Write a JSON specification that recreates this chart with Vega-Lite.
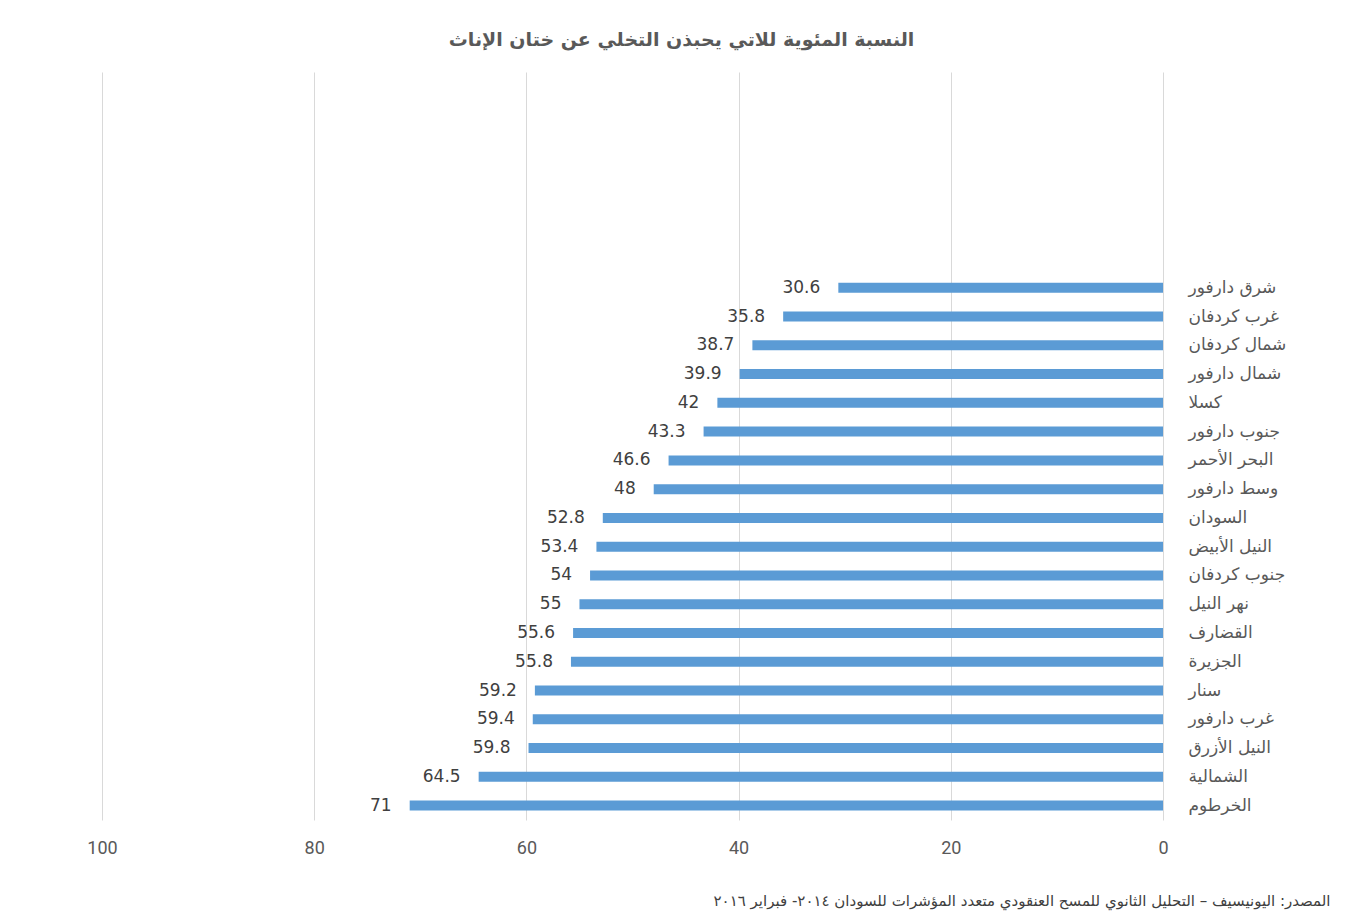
{
  "$schema": "https://vega.github.io/schema/vega-lite/v6.json",
  "width": 1061,
  "height": 748,
  "autosize": {"type": "none"},
  "padding": {"left": 102, "top": 72, "right": 202, "bottom": 102},
  "background": "white",
  "title": {
    "text": "النسبة المئوية للاتي يحبذن التخلي عن ختان الإناث",
    "font": "DejaVu Sans",
    "fontSize": 19,
    "fontWeight": "bold",
    "color": "#595959",
    "anchor": "middle",
    "dx": 49,
    "offset": 22
  },
  "data": {
    "values": [
      {"region": "شرق دارفور", "value": 30.6},
      {"region": "غرب كردفان", "value": 35.8},
      {"region": "شمال كردفان", "value": 38.7},
      {"region": "شمال دارفور", "value": 39.9},
      {"region": "كسلا", "value": 42},
      {"region": "جنوب دارفور", "value": 43.3},
      {"region": "البحر الأحمر", "value": 46.6},
      {"region": "وسط دارفور", "value": 48},
      {"region": "السودان", "value": 52.8},
      {"region": "النيل الأبيض", "value": 53.4},
      {"region": "جنوب كردفان", "value": 54},
      {"region": "نهر النيل", "value": 55},
      {"region": "القضارف", "value": 55.6},
      {"region": "الجزيرة", "value": 55.8},
      {"region": "سنار", "value": 59.2},
      {"region": "غرب دارفور", "value": 59.4},
      {"region": "النيل الأزرق", "value": 59.8},
      {"region": "الشمالية", "value": 64.5},
      {"region": "الخرطوم", "value": 71}
    ]
  },
  "encoding": {
    "y": {
      "field": "region",
      "type": "nominal",
      "scale": {
        "domain": ["_1", "_2", "_3", "_4", "_5", "_6", "_7",
          "شرق دارفور", "غرب كردفان", "شمال كردفان", "شمال دارفور", "كسلا", "جنوب دارفور", "البحر الأحمر", "وسط دارفور", "السودان", "النيل الأبيض", "جنوب كردفان", "نهر النيل", "القضارف", "الجزيرة", "سنار", "غرب دارفور", "النيل الأزرق", "الشمالية", "الخرطوم"],
        "paddingInner": 0.65,
        "paddingOuter": 0.325
      },
      "axis": {
        "orient": "right",
        "title": null,
        "domain": false,
        "ticks": false,
        "grid": false,
        "labelAlign": "left",
        "labelPadding": 25,
        "labelFont": "DejaVu Sans",
        "labelFontSize": 17,
        "labelColor": "#595959",
        "labelExpr": "indexof(datum.label, '_') == 0 ? '' : datum.label"
      }
    },
    "x": {
      "field": "value",
      "type": "quantitative",
      "scale": {"domain": [0, 100], "reverse": true, "nice": false},
      "axis": {
        "values": [0, 20, 40, 60, 80, 100],
        "domain": false,
        "ticks": false,
        "grid": true,
        "gridColor": "#d9d9d9",
        "gridWidth": 1,
        "labelFlush": false,
        "labelPadding": 19,
        "labelFont": "Roboto",
        "labelFontSize": 18,
        "labelColor": "#595959",
        "title": "المصدر: اليونيسيف – التحليل الثانوي للمسح العنقودي متعدد المؤشرات للسودان ٢٠١٤- فبراير ٢٠١٦",
        "titleFont": "DejaVu Sans",
        "titleFontSize": 15,
        "titleFontWeight": "normal",
        "titleColor": "#404040",
        "titleAnchor": null,
        "titleAlign": "right",
        "titleBaseline": "middle",
        "titleX": 1228,
        "titleY": 80
      }
    }
  },
  "layer": [
    {
      "mark": {"type": "bar", "color": "#5B9BD5", "size": 10}
    },
    {
      "mark": {
        "type": "text",
        "align": "right",
        "baseline": "middle",
        "dx": -18,
        "font": "DejaVu Sans",
        "fontSize": 17,
        "color": "#404040"
      },
      "encoding": {"text": {"field": "value", "type": "quantitative"}}
    }
  ],
  "config": {"view": {"stroke": null}}
}
